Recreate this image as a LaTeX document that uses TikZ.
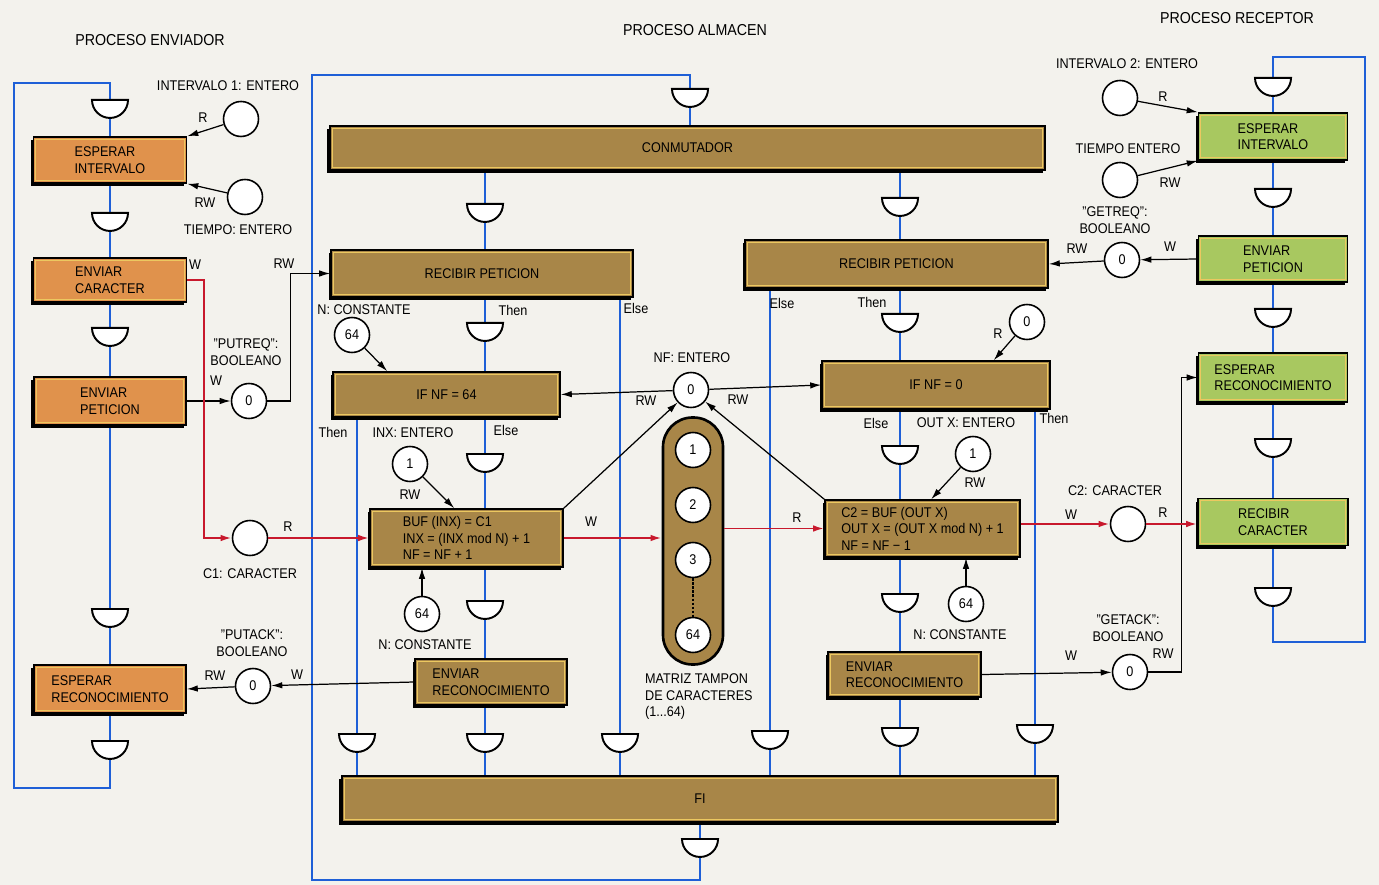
\documentclass[tikz,border=0pt]{standalone}
\usepackage{fontspec}
\setmainfont{Liberation Sans}[FakeStretch=0.9]
\usepackage{tikz}
\usetikzlibrary{arrows.meta, positioning, shapes.geometric, shadows, backgrounds, calc}
\definecolor{brownbox}{RGB}{168,134,72}
\definecolor{orangebox}{RGB}{224,146,76}
\definecolor{greenbox}{RGB}{168,200,96}
\definecolor{flowblue}{RGB}{30,95,215}
\definecolor{datared}{RGB}{200,25,45}
\definecolor{paper}{RGB}{243,242,237}
\definecolor{trim}{RGB}{236,200,96}
\tikzset{
  procbox/.style={
    rectangle, draw=black, line width=0.9pt, text=black,
    align=left, inner sep=2pt,
    minimum width=30.4mm, minimum height=9.2mm,
    general shadow={fill=black, shadow xshift=-0.5mm, shadow yshift=-0.6mm},
    path picture={\draw[trim, line width=0.35pt]
      ([shift={(1.3pt,-1.3pt)}]path picture bounding box.north west) rectangle
      ([shift={(-1.3pt,1.3pt)}]path picture bounding box.south east);},
  },
  sendbox/.style={procbox, fill=orangebox},
  storebox/.style={procbox, fill=brownbox},
  recvbox/.style={procbox, fill=greenbox},
  gate/.style={semicircle, shape border rotate=180, anchor=chord center,
    draw=black, line width=1.1pt, fill=white, minimum width=7.2mm, inner sep=0pt},
  res/.style={circle, draw=black, line width=0.9pt, fill=white,
    minimum size=7mm, inner sep=0pt},
  bufmat/.style={rectangle, rounded corners=5.9mm, draw=black, line width=1.5pt,
    fill=brownbox, minimum width=12mm, minimum height=49.4mm},
  lab/.style={inner sep=1pt, align=center},
  title/.style={lab, font=\fontsize{9}{10}\selectfont},
  flow/.style={flowblue, line width=1.1pt},
  link/.style={-{Latex[length=2.2mm, width=1.3mm]}, line width=0.7pt},
  data/.style={link, datared, line width=1.1pt},
}

\begin{document}
\begin{tikzpicture}[x=0.2mm, y=-0.2mm, font=\fontsize{8}{9.4}\selectfont]

% ---- Proceso enviador ----
\node[title] (tEnv) at (150,40) {PROCESO ENVIADOR};
\node[gate] (gE1) at (110,99) {};
\node[sendbox, minimum width=30.6mm] (eInt) at (110,160) {ESPERAR\\INTERVALO};
\node[gate] (gE2) at (110,212) {};
\node[sendbox, minimum width=30.6mm, minimum height=8.8mm] (eCar) at (110,280) {ENVIAR\\CARACTER};
\node[gate] (gE3) at (110,327) {};
\node[sendbox, minimum height=9.6mm] (ePet) at (110,401) {ENVIAR\\PETICION};
\node[gate] (gE4) at (110,608) {};
\node[sendbox, minimum height=9.6mm] (eRec) at (110,689) {ESPERAR\\RECONOCIMIENTO};
\node[gate] (gE5) at (110,740) {};

\node[res] (i1) at (241,119) {};
\node[res] (t1) at (245,197) {};
\node[res] (pr) at (249,401) {0};
\node[res] (c1) at (250,538) {};
\node[res] (pa) at (253,686) {0};

\node[lab] (lI1) at (228,86) {INTERVALO 1: ENTERO};
\node[lab] (lR1) at (203,118) {R};
\node[lab] (lRW1) at (205,203) {RW};
\node[lab] (lT1) at (238,230) {TIEMPO: ENTERO};
\node[lab] (lW1) at (195,265) {W};
\node[lab] (lRW2) at (284,264) {RW};
\node[lab] (lPr) at (246,352) {"PUTREQ":\\BOOLEANO};
\node[lab] (lW2) at (216,381) {W};
\node[lab] (lR2) at (288,527) {R};
\node[lab] (lC1) at (250,574) {C1: CARACTER};
\node[lab] (lPa) at (252,643) {"PUTACK":\\BOOLEANO};
\node[lab] (lRW3) at (215,676) {RW};
\node[lab] (lW3) at (297,675) {W};

% ---- Proceso almacen ----
\node[title] (tAlm) at (695,30) {PROCESO ALMACEN};
\node[gate] (gM0) at (690,88) {};
\node[storebox, align=center, minimum width=143mm, minimum height=8.8mm] (conm) at (687.5,148) {CONMUTADOR};
\node[gate] (gM1) at (485,203) {};
\node[gate] (gM2) at (900,197) {};
\node[storebox, align=center, minimum width=60.4mm, minimum height=9.4mm] (recL) at (482,273.5) {RECIBIR PETICION};
\node[storebox, align=center, minimum width=60.6mm, minimum height=9.6mm] (recR) at (896.5,264) {RECIBIR PETICION};
\node[gate] (gM3) at (485,322) {};
\node[gate] (gM4) at (900,313) {};
\node[storebox, align=center, minimum width=45.4mm, minimum height=9mm] (if64) at (446.5,394.5) {IF NF = 64};
\node[storebox, align=center, minimum width=45.6mm, minimum height=9.6mm] (if0) at (936,385) {IF NF = 0};
\node[gate] (gM5) at (485,453) {};
\node[gate] (gM6) at (900,445) {};
\node[storebox, minimum width=38.6mm, minimum height=11.6mm] (buf) at (466.5,538)
  {BUF (INX) = C1\\INX = (INX mod N) + 1\\NF = NF + 1};
\node[storebox, minimum width=39mm, minimum height=11.4mm] (c2) at (922.5,528.5)
  {C2 = BUF (OUT X)\\OUT X = (OUT X mod N) + 1\\NF = NF − 1};
\node[gate] (gM7) at (485,600) {};
\node[gate] (gM8) at (900,593) {};
\node[storebox] (envL) at (491,682) {ENVIAR\\RECONOCIMIENTO};
\node[storebox, minimum width=30.6mm, minimum height=9mm] (envR) at (904.5,674.5) {ENVIAR\\RECONOCIMIENTO};
\node[gate] (gF1) at (357,733) {};
\node[gate] (gF2) at (485,733) {};
\node[gate] (gF3) at (620,733) {};
\node[gate] (gF4) at (770,730) {};
\node[gate] (gF5) at (900,727) {};
\node[gate] (gF6) at (1035,724) {};
\node[storebox, align=center, minimum width=143.2mm, minimum height=9.2mm] (fi) at (700,799) {FI};
\node[gate] (gM9) at (700,838) {};

\node[res] (n1) at (352,335) {64};
\node[res] (inx) at (410,464) {1};
\node[res] (n2) at (422,614) {64};
\node[res] (nf) at (691,390) {0};
\node[bufmat] (mat) at (693,541) {};
\node[res] (m1) at (693,450) {1};
\node[res] (m2) at (693,505) {2};
\node[res] (m3) at (693,560) {3};
\node[res] (m4) at (693,635) {64};
\node[res] (r0) at (1027,322) {0};
\node[res] (outx) at (973,454) {1};
\node[res] (n3) at (966,604) {64};

\node[lab] (lN1) at (364,310) {N: CONSTANTE};
\node[lab] (lTh1) at (513,310) {Then};
\node[lab] (lEl1) at (636,308) {Else};
\node[lab] (lTh2) at (333,432) {Then};
\node[lab] (lInx) at (413,433) {INX: ENTERO};
\node[lab] (lEl2) at (506,430) {Else};
\node[lab] (lRW4) at (410,495) {RW};
\node[lab] (lN2) at (425,645) {N: CONSTANTE};
\node[lab] (lNf) at (692,358) {NF: ENTERO};
\node[lab] (lRW5) at (646,401) {RW};
\node[lab] (lRW6) at (738,400) {RW};
\node[lab] (lW4) at (591,522) {W};
\node[lab] (lR3) at (797,518) {R};
\node[lab, align=left, anchor=north west] (lMat) at (643,672) {MATRIZ TAMPON\\DE CARACTERES\\(1...64)};
\node[lab] (lEl3) at (782,303) {Else};
\node[lab] (lTh3) at (872,302) {Then};
\node[lab] (lR4) at (998,334) {R};
\node[lab] (lEl4) at (876,423) {Else};
\node[lab] (lOut) at (966,423) {OUT X: ENTERO};
\node[lab] (lTh4) at (1054,418) {Then};
\node[lab] (lRW7) at (975,483) {RW};
\node[lab] (lN3) at (960,635) {N: CONSTANTE};

% ---- Proceso receptor ----
\node[title] (tRec) at (1237,18) {PROCESO RECEPTOR};
\node[gate] (gR1) at (1273,77) {};
\node[recvbox, minimum width=29.8mm, minimum height=9.4mm] (geInt) at (1273,136.5) {ESPERAR\\INTERVALO};
\node[gate] (gR2) at (1273,188) {};
\node[recvbox, minimum width=29.8mm] (gePet) at (1273,259) {ENVIAR\\PETICION};
\node[gate] (gR3) at (1273,308) {};
\node[recvbox, minimum width=29.8mm, minimum height=9.8mm] (geRec) at (1273,377.5) {ESPERAR\\RECONOCIMIENTO};
\node[gate] (gR4) at (1273,438) {};
\node[recvbox, minimum width=30mm, minimum height=9.4mm] (grCar) at (1273,522) {RECIBIR\\CARACTER};
\node[gate] (gR5) at (1273,587) {};

\node[res] (c2c) at (1128,524) {};
\node[res] (ga) at (1130,672) {0};
\node[res] (i2) at (1120,98) {};
\node[res] (t2) at (1120,180) {};
\node[res] (gr) at (1122,260) {0};

\node[lab] (lC2) at (1115,491) {C2: CARACTER};
\node[lab] (lW5) at (1071,515) {W};
\node[lab] (lR5) at (1163,513) {R};
\node[lab] (lW6) at (1071,656) {W};
\node[lab] (lGa) at (1128,628) {"GETACK":\\BOOLEANO};
\node[lab] (lRW8) at (1163,654) {RW};
\node[lab] (lI2) at (1127,64) {INTERVALO 2: ENTERO};
\node[lab] (lR6) at (1163,97) {R};
\node[lab] (lT2) at (1128,149) {TIEMPO ENTERO};
\node[lab] (lRW9) at (1170,183) {RW};
\node[lab] (lGr) at (1115,220) {"GETREQ":\\BOOLEANO};
\node[lab] (lW7) at (1170,247) {W};
\node[lab] (lRW10) at (1077,249) {RW};

% ---- Flujo de control ----
\begin{scope}[on background layer]
  \fill[paper] (0,0) rectangle (1379,885);
  \coordinate (lcA) at (14,83);
  \coordinate (lcB) at (14,788);
  \draw[flow] (gE1.chord center) |- (lcA) -- (lcB) -| (gE5.apex);
  \draw[flow] (gE1.apex) -- (gE5.chord center);
  \coordinate (mcA) at (312,75);
  \coordinate (mcB) at (312,880);
  \draw[flow] (gM0.chord center) |- (mcA) -- (mcB) -| (gM9.apex);
  \draw[flow] (gM0.apex) -- (gM0.apex |- conm.north);
  \draw[flow] (gM1.chord center |- conm.south) -- (gF2.apex |- fi.north);
  \draw[flow] (gM2.chord center |- conm.south) -- (gF5.apex |- fi.north);
  \draw[flow] (gF1.chord center |- if64.south) -- (gF1.apex |- fi.north);
  \draw[flow] (gF3.chord center |- recL.south) -- (gF3.apex |- fi.north);
  \draw[flow] (gF4.chord center |- recR.south) -- (gF4.apex |- fi.north);
  \draw[flow] (gF6.chord center |- if0.south) -- (gF6.apex |- fi.north);
  \draw[flow] (fi.south -| gM9.chord center) -- (gM9.chord center);
  \coordinate (rcA) at (1365,57);
  \coordinate (rcB) at (1365,642);
  \draw[flow] (gR1.chord center) |- (rcA) -- (rcB) -| (gR5.apex);
  \draw[flow] (gR1.apex) -- (gR5.chord center);
\end{scope}

% ---- Accesos a datos ----
\draw[link] (i1) -- (eInt.north east);
\draw[link] (t1) -- (eInt.south east);
\draw[link] (ePet.east) -- (pr);
\draw[link] (pr.east) -- ++(23,0) |- (recL.west);
\draw[link] (envL.west) -- (pa);
\draw[link] (pa) -- (eRec.east);
\draw[link] (n1) -- ($(if64.north west)+(55,0)$);
\draw[link] (inx) -- ($(buf.north west)+(85,0)$);
\draw[link] (n2) -- (n2 |- buf.south);
\draw[link] (nf) -- (if64.east);
\draw[link] (nf) -- (if0.west);
\draw[link] (buf.north east) -- (nf);
\draw[link] (c2.north west) -- (nf);
\draw[link] (r0) -- ($(if0.north east)+(-57,0)$);
\draw[link] (outx) -- ($(c2.north west)+(107,0)$);
\draw[link] (n3) -- (n3 |- c2.south);
\draw[link] (envR.east) -- (ga);
\draw[link] (ga.east) -- ++(33,0) |- (geRec.west);
\draw[link] (i2) -- (geInt.north west);
\draw[link] (t2) -- (geInt.south west);
\draw[link] (gePet.west) -- (gr);
\draw[link] (gr) -- (recR.east);
\draw[line width=1.3pt, densely dotted] (m3) -- (m4);

% ---- Caracteres ----
\draw[data] (eCar.east) -- ++(17,0) |- (c1);
\draw[data] (c1) -- (c1 -| buf.west);
\draw[data] (buf.east) -- (buf.east -| mat.west);
\draw[data] (mat.east |- c2.west) -- (c2.west);
\draw[data] (c2.east |- c2c) -- (c2c);
\draw[data] (c2c) -- (c2c -| grCar.west);

\end{tikzpicture}
\end{document}
